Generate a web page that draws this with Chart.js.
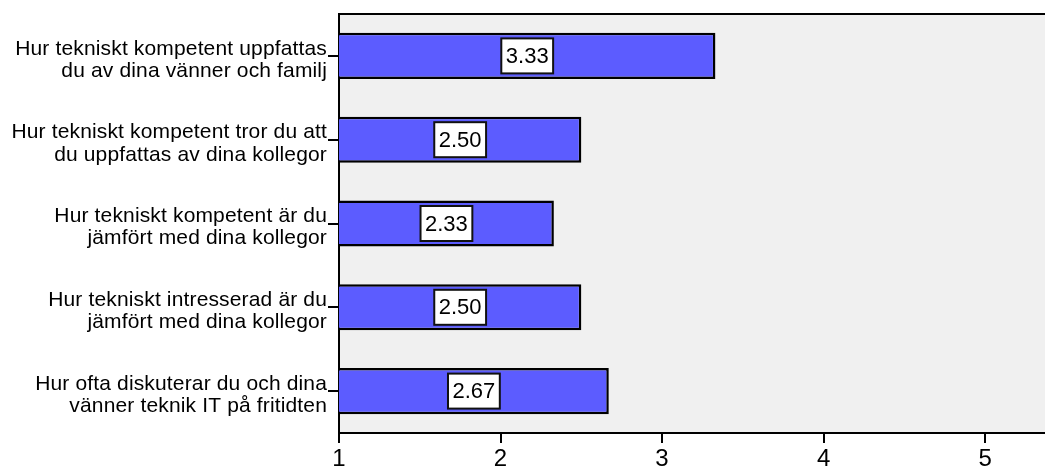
<!DOCTYPE html>
<html>
<head>
<meta charset="utf-8">
<script src="https://cdn.jsdelivr.net/npm/chart.js@4/dist/chart.umd.min.js"></script>
<style>
  html, body { margin: 0; padding: 0; background: #ffffff; }
  #chart { display: block; }
</style>
</head>
<body>
<canvas id="chart" width="1045" height="469"></canvas>
<script>
// Survey questions (each label split over two lines)
const questions = [
  ['Hur tekniskt kompetent uppfattas', 'du av dina vänner och familj'],
  ['Hur tekniskt kompetent tror du att', 'du uppfattas av dina kollegor'],
  ['Hur tekniskt kompetent är du', 'jämfört med dina kollegor'],
  ['Hur tekniskt intresserad är du', 'jämfört med dina kollegor'],
  ['Hur ofta diskuterar du och dina', 'vänner teknik IT på fritidten']
];

// Mean score per question
const meanScores = [3.33, 2.50, 2.33, 2.50, 2.67];

// Scale tick values
const scaleTicks = [1, 2, 3, 4, 5];
const scaleMin = 1;
const scaleMax = 5.37;

const FONT = "'Liberation Sans', Arial, sans-serif";

// Grey plot background plus top frame line
const plotFrame = {
  id: 'plotFrame',
  beforeDraw(chart) {
    const { ctx, chartArea: a } = chart;
    ctx.save();
    ctx.fillStyle = '#f0f0f0';
    ctx.fillRect(a.left, a.top, a.right - a.left, a.bottom - a.top);
    ctx.strokeStyle = '#000';
    ctx.lineWidth = 2;
    ctx.beginPath();
    ctx.moveTo(a.left, a.top);
    ctx.lineTo(a.right, a.top);
    ctx.stroke();
    ctx.restore();
  }
};

// Slightly widened lettering for axis text
const textSpacing = {
  id: 'textSpacing',
  beforeLayout(chart) { chart.ctx.letterSpacing = '0.15px'; },
  beforeDraw(chart) { chart.ctx.letterSpacing = '0.15px'; }
};

// Boxed value label in the middle of each bar
const valueBoxes = {
  id: 'valueBoxes',
  afterDatasetsDraw(chart) {
    const { ctx } = chart;
    const xs = chart.scales.x;
    const meta = chart.getDatasetMeta(0);
    ctx.save();
    ctx.letterSpacing = '0px';
    ctx.font = '22px ' + FONT;
    ctx.textAlign = 'center';
    ctx.textBaseline = 'middle';
    meta.data.forEach((bar, i) => {
      const v = chart.data.datasets[0].data[i];
      const txt = v.toFixed(2);
      const cx = xs.getPixelForValue((scaleMin + v) / 2);
      const cy = bar.y;
      const w = ctx.measureText(txt).width + 9;
      const h = 35;
      ctx.fillStyle = '#ffffff';
      ctx.fillRect(cx - w / 2, cy - h / 2, w, h);
      ctx.strokeStyle = '#111';
      ctx.lineWidth = 2;
      ctx.strokeRect(cx - w / 2, cy - h / 2, w, h);
      ctx.fillStyle = '#000';
      ctx.fillText(txt, cx, cy + 1);
    });
    ctx.restore();
  }
};

new Chart(document.getElementById('chart'), {
  type: 'bar',
  data: {
    labels: questions,
    datasets: [{
      data: meanScores,
      backgroundColor: '#5c5cff',
      borderColor: '#000000',
      borderWidth: 2.5,
      borderSkipped: false,
      barPercentage: 0.55,
      categoryPercentage: 1.0
    }]
  },
  plugins: [textSpacing, plotFrame, valueBoxes],
  options: {
    indexAxis: 'y',
    responsive: false,
    devicePixelRatio: 1,
    animation: false,
    layout: { padding: { top: 14, right: 0, bottom: 0, left: 0 } },
    plugins: {
      legend: { display: false },
      tooltip: { enabled: false }
    },
    scales: {
      x: {
        type: 'linear',
        min: scaleMin,
        max: scaleMax,
        afterBuildTicks(scale) {
          scale.ticks = scaleTicks.map(v => ({ value: v }));
        },
        afterFit(scale) { scale.height = 36; },
        grid: {
          drawOnChartArea: false,
          drawTicks: true,
          tickLength: 10,
          color: '#000',
          lineWidth: 2
        },
        border: { display: true, color: '#000', width: 2 },
        ticks: {
          color: '#000',
          padding: 2,
          maxRotation: 0,
          font: { family: FONT, size: 24 },
          callback: v => String(v)
        }
      },
      y: {
        afterFit(scale) {
          scale.width = 339;
          scale.paddingTop = 0;
          scale.paddingBottom = 0;
        },
        grid: {
          offset: false,
          drawOnChartArea: false,
          drawTicks: true,
          tickLength: 11,
          color: '#000',
          lineWidth: 2
        },
        border: { display: true, color: '#000', width: 2 },
        ticks: {
          color: '#000',
          padding: 1,
          labelOffset: 4,
          font: { family: FONT, size: 21, lineHeight: 1.05 }
        }
      }
    }
  }
});
</script>
</body>
</html>
